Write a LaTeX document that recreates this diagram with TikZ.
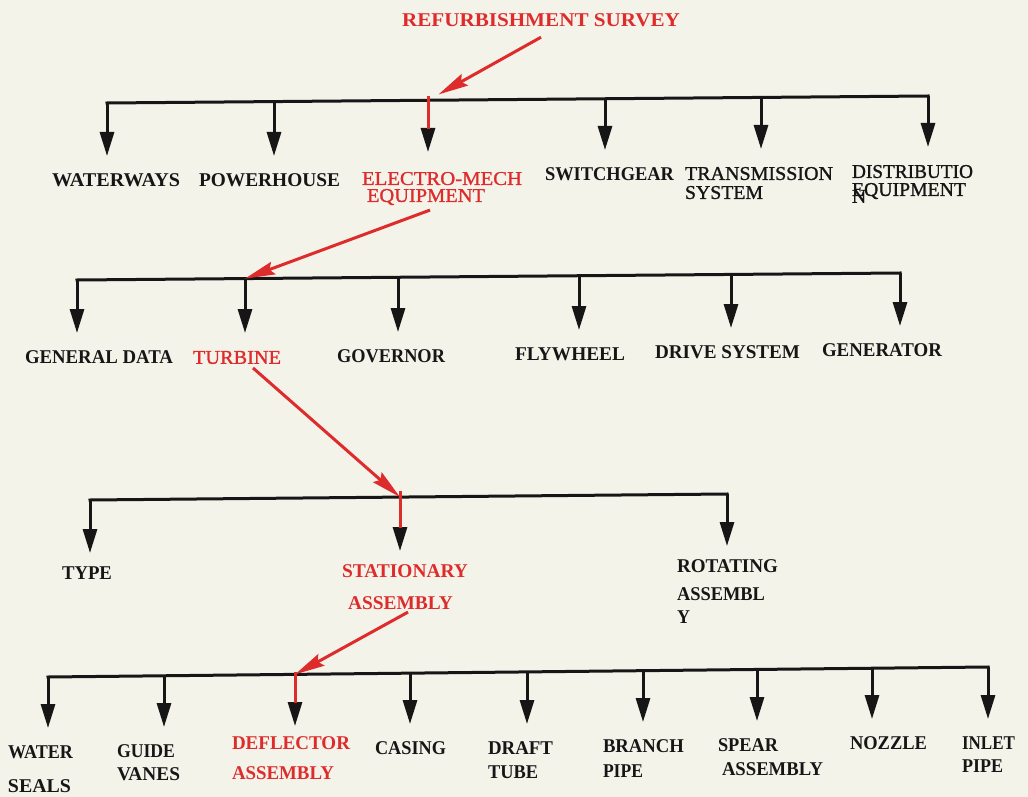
\documentclass[tikz,border=0pt]{standalone}
\usepackage{fontspec}
\setmainfont{Liberation Serif}
\newfontfamily\medserif[FakeBold=1.2]{Liberation Serif}
\usepackage{graphicx}
\usetikzlibrary{arrows.meta}
\definecolor{paper}{RGB}{243,243,234}
\definecolor{ink}{RGB}{22,22,22}
\definecolor{redink}{RGB}{222,44,44}
\newcommand{\fw}[2]{\resizebox{#1pt}{\height}{#2}}
\begin{document}
\begin{tikzpicture}[x=1pt,y=-1pt,
  lab/.style={anchor=north west, inner sep=0pt, outer sep=0pt, align=left, text=ink,
              font=\fontsize{19.5}{16}\selectfont\bfseries},
  labr/.style={lab, font=\fontsize{19.5}{16}\medserif},
  hot/.style={text=redink},
  hbar/.style={draw=ink, line width=3pt, line cap=rect},
  dropar/.style={draw=ink, line width=3pt, -{Triangle[length=24pt,width=14pt]}, shorten >=#1},
  dropar/.default=18pt,
  redline/.style={draw=redink, line width=3pt},
  redarrow/.style={draw=redink, line width=3pt, -{Stealth[length=30pt,width=13pt,inset=4pt]}},
]
\fill[paper] (0,0) rectangle (1028,797);
\useasboundingbox (0,0) rectangle (1028,797);

% junction coordinates on the bars
\coordinate (a1) at (107,103);   \coordinate (a2) at (274,101.6);
\coordinate (a3) at (428,100.3); \coordinate (a4) at (605,98.8);
\coordinate (a5) at (761,97.4);  \coordinate (a6) at (928,96);
\coordinate (b1) at (77,280);    \coordinate (b2) at (245,278.6);
\coordinate (b3) at (398,277.3); \coordinate (b4) at (579,275.7);
\coordinate (b5) at (731,274.4); \coordinate (b6) at (900,273);
\coordinate (c1) at (90,500);    \coordinate (c2) at (400,497.1);
\coordinate (c3) at (727,494);
\coordinate (e1) at (48,677);    \coordinate (e2) at (164,675.8);
\coordinate (e3) at (295,674.4); \coordinate (e4) at (410,673.1);
\coordinate (e5) at (527,671.9); \coordinate (e6) at (643,670.7);
\coordinate (e7) at (757,669.5); \coordinate (e8) at (872,668.2);
\coordinate (e9) at (988,667);

% labels
\node[lab, hot] (title) at (402,14) {\fw{278}{REFURBISHMENT SURVEY}};

\node[lab] (ww) at (52,174) {\fw{128}{WATERWAYS}};
\node[lab] (ph) at (199,174) {\fw{141}{POWERHOUSE}};
\node[labr, hot] (em) at (362,172) {\fw{160}{ELECTRO-MECH}\\[1pt]\hspace*{5pt}\fw{118}{EQUIPMENT}};
\node[lab] (sg) at (545,168) {\fw{129}{SWITCHGEAR}};
\node[labr] (ts) at (685,167) {\fw{148}{TRANSMISSION}\\[3pt]\fw{78}{SYSTEM}};
\node[labr] (de) at (852,165) {\fw{121}{DISTRIBUTIO}\\[2pt]\fw{114}{EQUIPMENT}};
\node[labr] (dn) at (852,190) {N};

\node[lab] (gd) at (25,351) {\fw{148}{GENERAL DATA}};
\node[labr, hot] (tu) at (193,351) {\fw{88}{TURBINE}};
\node[lab] (gv) at (337,350) {\fw{108}{GOVERNOR}};
\node[lab] (fy) at (515,348) {\fw{110}{FLYWHEEL}};
\node[lab] (ds) at (655,346) {\fw{145}{DRIVE SYSTEM}};
\node[lab] (gn) at (822,344) {\fw{120}{GENERATOR}};

\node[lab] (ty) at (62,567) {\fw{50}{TYPE}};
\node[lab, hot] (sa) at (342,565) {\fw{126}{STATIONARY}\\[16pt]\hspace*{6pt}\fw{105}{ASSEMBLY}};
\node[lab] (ra) at (677,560) {\fw{101}{ROTATING}\\[12pt]\fw{88}{ASSEMBL}\\[7pt]\fw{13}{Y}};

\node[lab] (ws) at (8,746) {\fw{65}{WATER}\\[18pt]\fw{63}{SEALS}};
\node[lab] (gu) at (117,745) {\fw{58}{GUIDE}\\[7pt]\fw{63}{VANES}};
\node[lab, hot] (da) at (232,737) {\fw{118}{DEFLECTOR}\\[14pt]\fw{102}{ASSEMBLY}};
\node[lab] (cs) at (375,742) {\fw{71}{CASING}};
\node[lab] (dt) at (488,742) {\fw{65}{DRAFT}\\[8pt]\fw{50}{TUBE}};
\node[lab] (bp) at (603,740) {\fw{81}{BRANCH}\\[9pt]\fw{40}{PIPE}};
\node[lab] (sp) at (718,739) {\fw{60}{SPEAR}\\[8pt]\hspace*{4pt}\fw{101}{ASSEMBLY}};
\node[lab] (nz) at (850,737) {\fw{77}{NOZZLE}};
\node[lab] (ip) at (962,737) {\fw{53}{INLET}\\[7pt]\fw{41}{PIPE}};

% level 1
\draw[hbar] (a1) -- (a6);
\draw[dropar] (a1) -- (a1 |- ww.north);
\draw[dropar] (a2) -- (a2 |- ph.north);
\draw[dropar=20pt] (a3) -- (a3 |- em.north);
\draw[dropar] (a4) -- (a4 |- sg.north);
\draw[dropar] (a5) -- (a5 |- ts.north);
\draw[dropar] (a6) -- (a6 |- de.north);
% level 2
\draw[hbar] (b1) -- (b6);
\draw[dropar] (b1) -- (b1 |- gd.north);
\draw[dropar] (b2) -- (b2 |- tu.north);
\draw[dropar] (b3) -- (b3 |- gv.north);
\draw[dropar] (b4) -- (b4 |- fy.north);
\draw[dropar] (b5) -- (b5 |- ds.north);
\draw[dropar] (b6) -- (b6 |- gn.north);
% level 3
\draw[hbar] (c1) -- (c3);
\draw[dropar=14pt] (c1) -- (c1 |- ty.north);
\draw[dropar=14pt] (c2) -- (c2 |- sa.north);
\draw[dropar=14pt] (c3) -- (c3 |- ra.north);
% level 4
\draw[hbar] (e1) -- (e9);
\draw[dropar] (e1) -- (e1 |- ws.north);
\draw[dropar] (e2) -- (e2 |- gu.north);
\draw[dropar=11pt] (e3) -- (e3 |- da.north);
\draw[dropar] (e4) -- (e4 |- cs.north);
\draw[dropar] (e5) -- (e5 |- dt.north);
\draw[dropar] (e6) -- (e6 |- bp.north);
\draw[dropar] (e7) -- (e7 |- sp.north);
\draw[dropar] (e8) -- (e8 |- nz.north);
\draw[dropar] (e9) -- (e9 |- ip.north);

% red path overlays
\draw[redline, shorten >=43pt] ([yshift=4pt]a3) -- (a3 |- em.north);
\draw[redline, shorten >=37pt] ([yshift=6pt]c2) -- (c2 |- sa.north);
\draw[redline, shorten >=34pt] ([yshift=2pt]e3) -- (e3 |- da.north);

\draw[redarrow, shorten >=12pt] ([yshift=-10pt]title.south) -- (a3);
\draw[redarrow] ([xshift=-12pt,yshift=-5pt]em.south) -- (b2);
\draw[redarrow] ([xshift=16pt,yshift=-4pt]tu.south) -- (c2);
\draw[redarrow] ([xshift=3pt,yshift=-2pt]sa.south) -- (e3);
\end{tikzpicture}
\end{document}
